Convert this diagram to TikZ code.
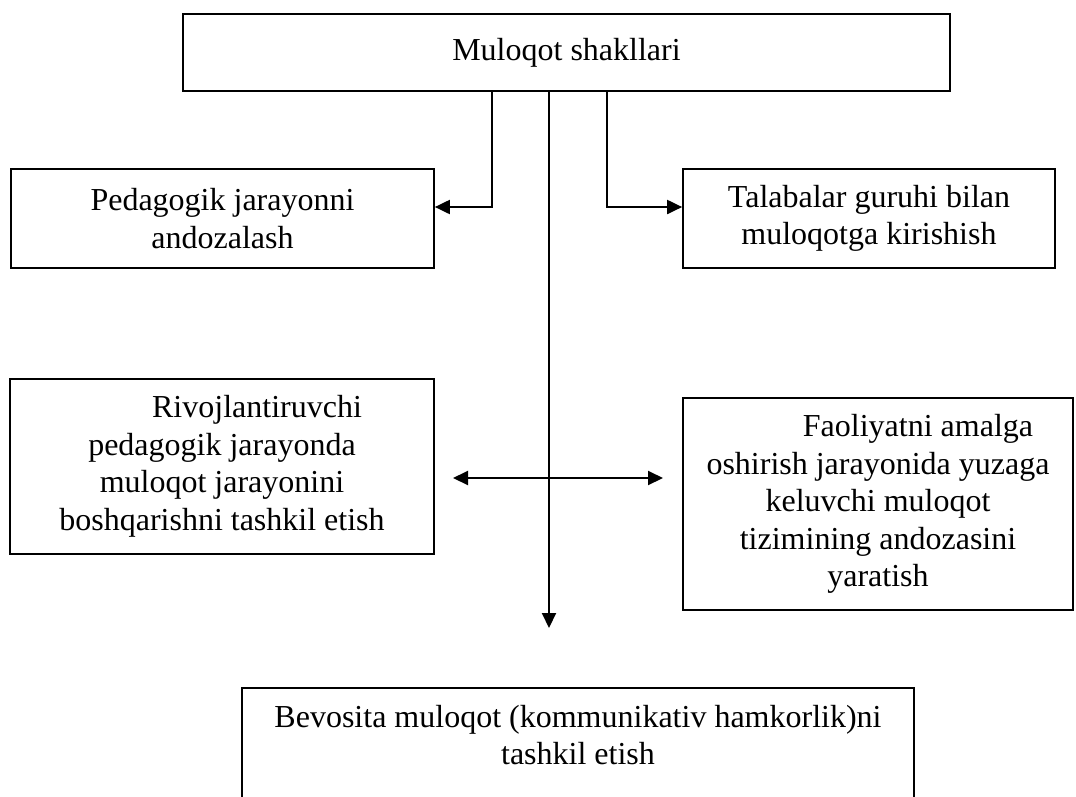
\documentclass[tikz,border=0pt]{standalone}
\usepackage{fontspec}
\setmainfont{Liberation Serif}
\usetikzlibrary{arrows.meta}
\begin{document}
\begin{tikzpicture}[x=1pt,y=-1pt,
  box/.style={draw, line width=1.7pt, inner sep=0pt, align=center,
              font=\fontsize{32}{37.5}\selectfont},
  txt/.style={inner sep=0pt, align=center, font=\fontsize{32}{37.5}\selectfont},
  tip/.style={Triangle[length=15pt,width=14pt]},
  conn/.style={line width=2pt, -{Triangle[length=15pt,width=14pt]}},
  dconn/.style={line width=2pt, {Triangle[length=15pt,width=14pt]}-{Triangle[length=15pt,width=14pt]}}]
\useasboundingbox (0,0) rectangle (1076,796);

\node[box, minimum width=767pt, minimum height=77pt] (top) at (566.5,52.5) {Muloqot shakllari};
\node[box, minimum width=423pt, minimum height=99pt] (left1) at (222.5,218.5)
  {Pedagogik jarayonni\\andozalash};
\node[box, minimum width=372pt, minimum height=99pt] (right1) at (869,218.5)
  {Talabalar guruhi bilan\\muloqotga kirishish};
\node[box, minimum width=424pt, minimum height=175pt] (left2) at (222,466.5)
  {\hspace*{70pt}Rivojlantiruvchi\\pedagogik jarayonda\\muloqot jarayonini\\boshqarishni tashkil etish};
\node[box, minimum width=390pt, minimum height=212pt] (right2) at (878,504)
  {\hspace*{80pt}Faoliyatni amalga\\oshirish jarayonida yuzaga\\keluvchi muloqot\\tizimining andozasini\\yaratish};
\node[box, minimum width=672pt, minimum height=130pt, anchor=north] (bottom) at (578,687) {};
\node[txt] (bottomtext) at (578,735) {Bevosita muloqot (kommunikativ hamkorlik)ni\\tashkil etish};

\coordinate (xl) at (492,0);
\coordinate (xm) at (549,0);
\coordinate (xr) at (607,0);
\coordinate (mtip) at (549,628);
\coordinate (dl) at (453,478);
\coordinate (dr) at (663,478);

\draw[conn] (top.south -| xl) |- ([yshift=11.5pt]left1.east);
\draw[conn] (top.south -| xr) |- ([yshift=11.5pt]right1.west);
\draw[conn] (top.south -| xm) -- (mtip);
\draw[dconn] (dl) -- (dr);
\end{tikzpicture}
\end{document}
